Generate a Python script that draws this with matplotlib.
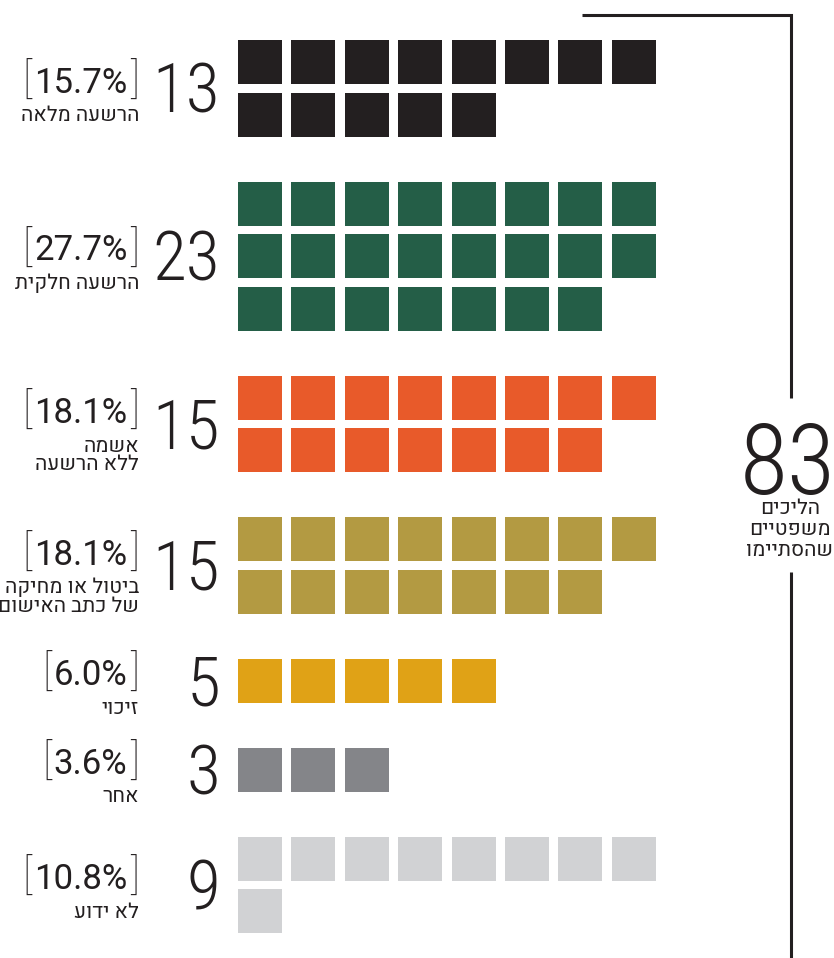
"""
Waffle chart: outcomes of 83 finished legal proceedings.
"""

import math

import matplotlib
matplotlib.use("Agg")
import matplotlib.pyplot as plt
from matplotlib.patches import Rectangle
from matplotlib import font_manager

categories = [
    "הרשעה מלאה",
    "הרשעה חלקית",
    "אשמה\nללא הרשעה",
    "ביטול או מחיקה\nשל כתב האישום",
    "זיכוי",
    "אחר",
    "לא ידוע",
]
counts = [13, 23, 15, 15, 5, 3, 9]
percents = [15.7, 27.7, 18.1, 18.1, 6.0, 3.6, 10.8]
colors = ["#231f20", "#245e47", "#e85a2a", "#b39a42", "#e0a216", "#848589", "#d1d2d4"]
total = 83
total_label = "הליכים\nמשפטיים\nשהסתיימו"

# layout (pixels)
PER_ROW = 8
X0 = 238
PITCH_X = 53.4
PITCH_Y = 52.5
SIZE = 44
GROUP_GAP = 45
TOP = 40
INK = "#231f20"

installed = {f.name for f in font_manager.fontManager.ttflist}


def pick(cands):
    return [f for f in cands if f in installed][:1] + ["DejaVu Sans"]


num_font = pick(["Roboto Condensed", "Barlow Semi Condensed", "Liberation Sans Narrow"])
pct_font = pick(["Roboto", "Lato"])
heb_font = pick(["Heebo", "Assistant", "Noto Sans Hebrew", "Rubik"])


def cap(fs):
    # approx cap height in pixels for Roboto-like fonts at dpi 100
    return 0.711 * fs * 100 / 72


def rtl(line):
    # matplotlib has no bidi support, so flip the line by hand
    return line[::-1]


def hebrew_lines(x, y, text, pitch, ha):
    # one Text per line so that y is always the first baseline
    for k, line in enumerate(text.split("\n")):
        ax.text(x, y + k * pitch, rtl(line), ha=ha, va="baseline",
                fontsize=HEB_FS, family=heb_font, color=INK)


fig = plt.figure(figsize=(8.34, 9.58), dpi=100)
ax = fig.add_axes([0, 0, 1, 1])
ax.set_xlim(0, 834)
ax.set_ylim(958, 0)
ax.axis("off")

NUM_FS = 50
PCT_FS = 25
BR_FS = 30
HEB_FS = 15

top = TOP
for cat, n, pct, col in zip(categories, counts, percents, colors):
    rows = math.ceil(n / PER_ROW)
    for i in range(n):
        r, c = divmod(i, PER_ROW)
        ax.add_patch(
            Rectangle((X0 + c * PITCH_X, top + r * PITCH_Y), SIZE, SIZE,
                      facecolor=col, edgecolor="none")
        )
    block_h = (rows - 1) * PITCH_Y + SIZE
    yc = top + block_h / 2

    ax.text(220, yc + cap(NUM_FS) / 2, str(n), ha="right", va="baseline",
            fontsize=NUM_FS, family=num_font, weight="light", color=INK)

    nlines = cat.count("\n") + 1
    pc = yc - 8 - (nlines - 1) * 5
    rb = ax.text(139, pc + 13.5, "]", ha="right", va="baseline", fontsize=BR_FS,
                 family=pct_font, weight="light", color=INK)
    num = ax.annotate(f"{pct:.1f}%", xy=(0, pc + cap(PCT_FS) / 2),
                      xycoords=(rb, "data"), xytext=(-2, 0),
                      textcoords="offset points", ha="right", va="baseline",
                      fontsize=PCT_FS, family=pct_font, color=INK)
    ax.annotate("[", xy=(0, pc + 13.5), xycoords=(num, "data"), xytext=(-2, 0),
                textcoords="offset points", ha="right", va="baseline",
                fontsize=BR_FS, family=pct_font, weight="light", color=INK)
    hebrew_lines(139, pc + 41, cat, 18.5, "right")

    top += block_h + GROUP_GAP

# bracket line on the right
ax.plot([582, 791, 791], [15, 15, 398], color=INK, lw=2.2,
        solid_capstyle="butt", solid_joinstyle="miter")
ax.plot([791, 791], [572, 958], color=INK, lw=2.2, solid_capstyle="butt")
ax.text(788, 494, str(total), ha="center", va="baseline", fontsize=71,
        family=num_font, weight="light", color=INK)
hebrew_lines(790, 514, total_label, 21, "center")

plt.savefig("out.png", dpi=100)
